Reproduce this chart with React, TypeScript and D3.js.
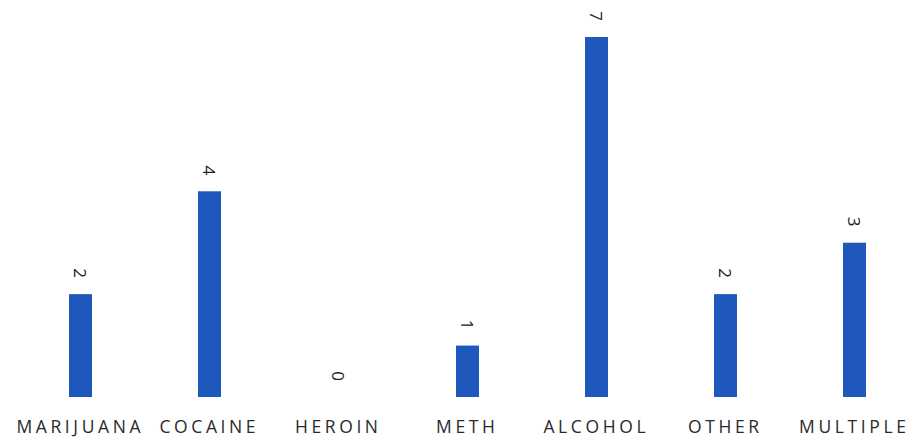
import React from "react";
import * as d3 from "d3";

const categories = ["MARIJUANA", "COCAINE", "HEROIN", "METH", "ALCOHOL", "OTHER", "MULTIPLE"];
const values = [2, 4, 0, 1, 7, 2, 3];

export default function App() {
  const W = 913, H = 442;
  const x = d3.scaleBand<string>().domain(categories).range([16, 919]).paddingInner(0.82).paddingOuter(0.41);
  const y = d3.scaleLinear().domain([0, 7]).range([397, 37]);
  const bw = 23;
  const ls = 3.6;
  return (
    <svg width={W} height={H} style={{ position: "absolute", left: 0, top: 0, background: "#fff" }}
      fontFamily="'Open Sans', 'Liberation Sans', sans-serif">
      {categories.map((c, i) => {
        const cx = (x(c) as number) + x.bandwidth() / 2;
        const v = values[i];
        const top = y(v);
        return (
          <g key={c}>
            {v > 0 && (
              <rect x={cx - bw / 2} y={top} width={bw} height={y(0) - top} fill="#1e58bd" />
            )}
            <text transform={`translate(${cx},${top - 21}) rotate(90)`} textAnchor="middle"
              dominantBaseline="central" fontSize={17} fill="#222">{v}</text>
            <text x={cx + ls / 2 - 2} y={433} textAnchor="middle" fontSize={17.5} letterSpacing={ls} fill="#2a2a2a">{c}</text>
          </g>
        );
      })}
    </svg>
  );
}
